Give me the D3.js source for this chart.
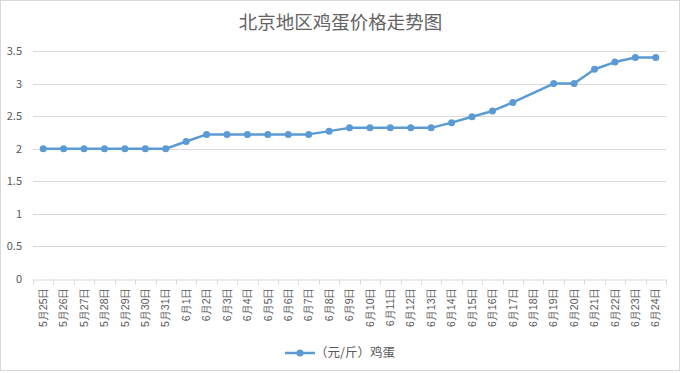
<!DOCTYPE html>
<html><head><meta charset="utf-8">
<script src="https://cdn.jsdelivr.net/npm/d3@7"></script>
<style>body{margin:0;background:#fff}svg{display:block;font-family:"Noto Sans CJK SC","Noto Sans",sans-serif}</style>
</head><body><svg id="c" width="681" height="373"></svg>
<script>
const title = "北京地区鸡蛋价格走势图";
const seriesName = "（元/斤）鸡蛋";
const categories = ["5月25日","5月26日","5月27日","5月28日","5月29日","5月30日","5月31日",
 "6月1日","6月2日","6月3日","6月4日","6月5日","6月6日","6月7日","6月8日","6月9日","6月10日",
 "6月11日","6月12日","6月13日","6月14日","6月15日","6月16日","6月17日","6月18日","6月19日",
 "6月20日","6月21日","6月22日","6月23日","6月24日"];
const values = [2,2,2,2,2,2,2,
 2.11,2.22,2.22,2.22,2.22,2.22,2.22,2.27,2.32,2.32,
 2.32,2.32,2.32,2.4,2.49,2.58,2.71,null,3.0,
 3.0,3.22,3.33,3.4,3.4];
const yTicks = [0,0.5,1,1.5,2,2.5,3,3.5];

const svg = d3.select("#c");
const color = "#5b9bd5", textColor = "#595959";
svg.append("rect").attr("x",0.5).attr("y",0.5).attr("width",679).attr("height",370)
  .attr("fill","#fff").attr("stroke","#d9d9d9");

const m = {l:33, r:666, t:51, b:279};
const x = d3.scaleBand().domain(categories).range([m.l, m.r]);
const y = d3.scaleLinear().domain([0,3.5]).range([m.b, m.t]);

svg.append("text").attr("x",340.5).attr("y",29).attr("text-anchor","middle")
  .attr("font-size",18.5).attr("fill","#636363").text(title);

// gridlines
svg.append("g").selectAll("line").data(yTicks.filter(d=>d>0)).join("line")
  .attr("x1",m.l).attr("x2",m.r).attr("y1",d=>Math.round(y(d))+0.5).attr("y2",d=>Math.round(y(d))+0.5)
  .attr("stroke","#d9d9d9");

// y axis labels
const ya = svg.append("g").attr("transform",`translate(${m.l},0)`)
  .call(d3.axisLeft(y).tickValues(yTicks).tickSize(0).tickPadding(11).tickFormat(d3.format("")));
ya.select(".domain").remove();
ya.selectAll("text").attr("font-size",11).attr("fill",textColor).attr("font-family","'Noto Sans CJK SC',sans-serif");

// x axis
const xa = svg.append("g").attr("transform",`translate(0,${Math.round(m.b)+0.5})`)
  .call(d3.axisBottom(x).tickSize(0));
xa.select(".domain").attr("stroke","#d9d9d9");
xa.selectAll(".tick line").remove();
const bounds = categories.map((c,i)=>x(c)).concat([m.r]);
xa.selectAll(".sep").data(bounds).join("line").attr("class","sep")
  .attr("x1",d=>Math.round(d)+0.5).attr("x2",d=>Math.round(d)+0.5).attr("y1",0).attr("y2",5)
  .attr("stroke","#d9d9d9");
xa.selectAll(".tick text").attr("font-size",10.5).attr("fill",textColor)
  .attr("text-anchor","end").attr("transform","rotate(-90)")
  .attr("x",-8).attr("y",0).attr("dy","0.35em");

// line
const pts = categories.map((c,i)=>({c, v: values[i]}));
const defined = pts.filter(d=>d.v!=null);
const line = d3.line().x(d=>x(d.c)+x.bandwidth()/2).y(d=>y(d.v));
svg.append("path").datum(defined).attr("d",line).attr("fill","none")
  .attr("stroke",color).attr("stroke-width",2.5).attr("stroke-linejoin","round");
svg.append("g").selectAll("circle").data(defined).join("circle")
  .attr("cx",d=>x(d.c)+x.bandwidth()/2).attr("cy",d=>y(d.v)).attr("r",3.5).attr("fill",color);

// legend
const lg = svg.append("g").attr("transform","translate(285,353)");
lg.append("line").attr("x1",0).attr("x2",30).attr("stroke",color).attr("stroke-width",2.5);
lg.append("circle").attr("cx",15).attr("r",3.5).attr("fill",color);
lg.append("text").attr("x",30).attr("y",0).attr("dy","0.35em").attr("font-size",12.5)
  .attr("fill",textColor).text(seriesName);
</script></body></html>
